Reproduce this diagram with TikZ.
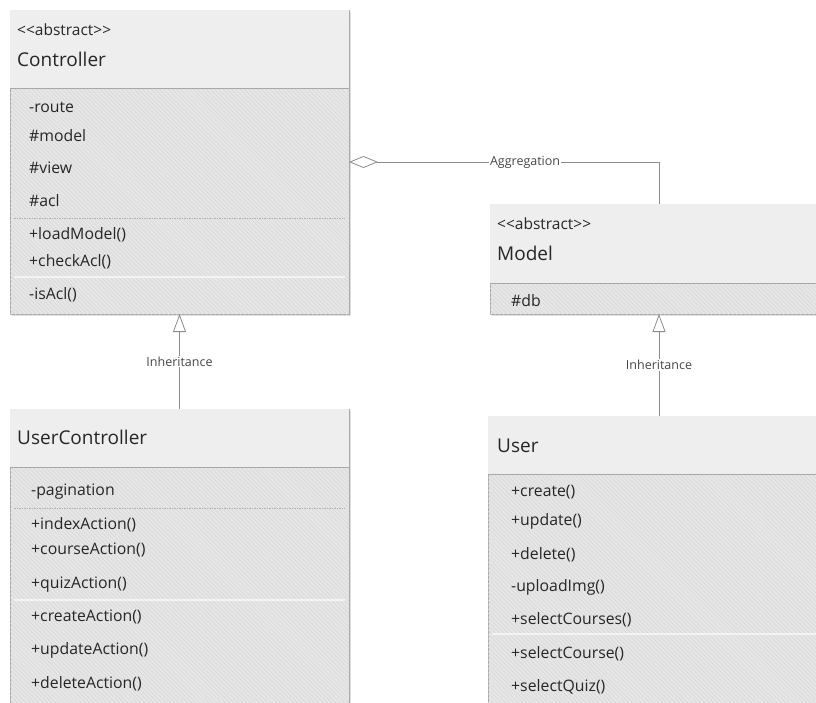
\documentclass[tikz,border=0pt]{standalone}
\usepackage{fontspec}
\setmainfont{Open Sans}
\newfontfamily\plainfont{Open Sans}
\usetikzlibrary{arrows.meta,patterns.meta,shadows}
\definecolor{edgec}{HTML}{A8A8A8}
\definecolor{headc}{HTML}{EEEEEE}
\definecolor{bodyc}{HTML}{E6E6E6}
\definecolor{hatchc}{HTML}{D6D6D6}
\definecolor{txtc}{HTML}{262626}
\definecolor{connc}{HTML}{8C8C8C}
\tikzset{
  classbox/.style={draw=edgec, line width=0.9pt, inner sep=0pt, outer sep=0pt, anchor=north west,
    fill=bodyc, postaction={pattern={Lines[angle=-45,distance=3pt,line width=0.5pt]}, pattern color=hatchc},
    drop shadow={shadow xshift=1.5pt, shadow yshift=-1.5pt, opacity=0.3, fill=black!40}},
  headsep/.style={draw=edgec, line width=0.9pt},
  dashsep/.style={draw=edgec!90, line width=0.9pt, dash pattern=on 1.5pt off 1pt},
  lightsep/.style={draw=white, line width=1.4pt, opacity=0.6},
  boxtext/.style={anchor=mid west, inner sep=0pt, text=txtc, yshift=-3.5pt},
  stereo/.style={boxtext, font=\plainfont\fontsize{15.5}{16}\selectfont},
  cname/.style={boxtext, font=\fontsize{19}{21}\selectfont},
  member/.style={boxtext, font=\fontsize{15.8}{17}\selectfont},
  connlabel/.style={fill=white, inner sep=1pt, text=txtc!85, font=\fontsize{12.5}{13}\selectfont},
  conn/.style={draw=connc, line width=0.8pt},
  inherit/.style={conn, -{Triangle[open, length=18pt, width=13pt, line width=0.8pt]}},
  aggr/.style={conn, {Diamond[open, length=29pt, width=12pt, line width=0.8pt]}-},
}
\newcommand\headfill[2]{%
  \fill[headc] ([shift={(0.45pt,-0.45pt)}]#1.north west) rectangle ([xshift=-0.45pt]#1.east |- 0,#2);
  \draw[headsep] (#1.west |- 0,#2) -- (#1.east |- 0,#2);
}
\begin{document}
\begin{tikzpicture}[x=1pt, y=-1pt]
\useasboundingbox (0,0) rectangle (816,702);
\clip (0,0) rectangle (816,702);

% Controller
\node[classbox, minimum width=339pt, minimum height=304pt] (ctrl) at (10,10) {};
\headfill{ctrl}{88}
\draw[dashsep] (14,218) -- (345,218);
\draw[lightsep] (14,277) -- (345,277);
\node[stereo] (ctrlst) at (17,29) {<<abstract>>};
\node[cname] (ctrlname) at (17,60) {Controller};
\node[member] (c1) at (29,106) {-route};
\node[member] (c2) at (29,135) {\#model};
\node[member] (c3) at (29,167) {\#view};
\node[member] (c4) at (29,200) {\#acl};
\node[member] (c5) at (29,233) {+loadModel()};
\node[member] (c6) at (29,260) {+checkAcl()};
\node[member] (c7) at (29,293) {-isAcl()};

% Model
\node[classbox, minimum width=338pt, minimum height=110pt] (model) at (490,204) {};
\headfill{model}{283}
\node[stereo] (modst) at (497,223) {<<abstract>>};
\node[cname] (modname) at (497,254) {Model};
\node[member] (m1) at (511,300) {\#db};

% UserController
\node[classbox, minimum width=339pt, minimum height=310pt] (uc) at (10,409) {};
\headfill{uc}{467}
\draw[dashsep] (14,508) -- (345,508);
\draw[lightsep] (14,600) -- (345,600);
\node[cname] (ucname) at (17,438) {UserController};
\node[member] (u1) at (31,489) {-pagination};
\node[member] (u2) at (31,523) {+indexAction()};
\node[member] (u3) at (31,548) {+courseAction()};
\node[member] (u4) at (31,582) {+quizAction()};
\node[member] (u5) at (31,615) {+createAction()};
\node[member] (u6) at (31,648) {+updateAction()};
\node[member] (u7) at (31,682) {+deleteAction()};

% User
\node[classbox, minimum width=342pt, minimum height=300pt] (user) at (488,416) {};
\headfill{user}{474}
\draw[lightsep] (492,634) -- (828,634);
\node[cname] (usname) at (497,446) {User};
\node[member] (s1) at (511,490) {+create()};
\node[member] (s2) at (511,519) {+update()};
\node[member] (s3) at (511,553) {+delete()};
\node[member] (s4) at (511,585) {-uploadImg()};
\node[member] (s5) at (511,618) {+selectCourses()};
\node[member] (s6) at (511,652) {+selectCourse()};
\node[member] (s7) at (511,685) {+selectQuiz()};

% Connectors
\draw[aggr] (ctrl.east) -- node[connlabel, pos=0.568] (agglbl) {Aggregation} (ctrl.east -| model.north) -- (model.north);
\draw[inherit] (uc.north) -- node[connlabel] (inh1) {Inheritance} (ctrl.south);
\draw[inherit] (user.north) -- node[connlabel] (inh2) {Inheritance} (model.south);
\end{tikzpicture}
\end{document}
